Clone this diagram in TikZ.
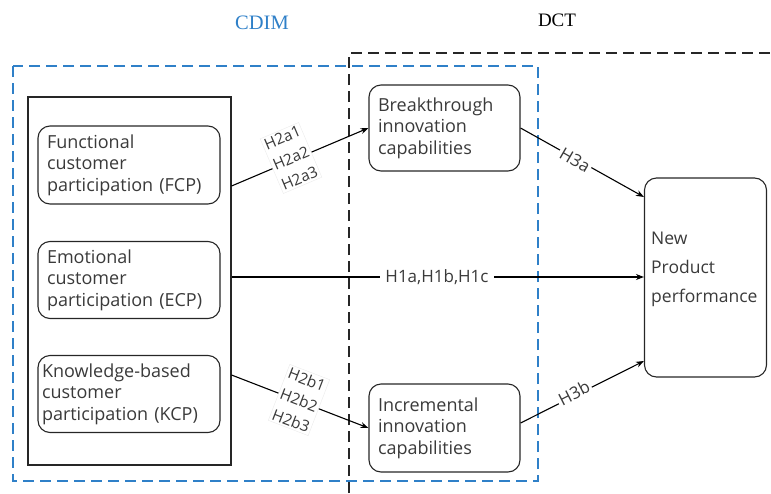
\documentclass[tikz,border=0pt]{standalone}
\usepackage{fontspec}
\setmainfont{Liberation Serif}
\newfontfamily\labfont{Open Sans}
\usetikzlibrary{arrows.meta,calc}
\definecolor{cdimblue}{HTML}{2F80C8}
\definecolor{txtgray}{HTML}{3A3A3A}
\tikzset{
  rbox/.style={draw=black!85, line width=1.1pt, rounded corners=12pt, align=left,
    inner xsep=9pt, inner ysep=2pt, font=\labfont\fontsize{18}{21.5}\selectfont, text=txtgray},
  conn/.style={draw=black, line width=1.1pt, -{Stealth[length=8pt,width=6pt]}},
  hlab/.style={font=\labfont\fontsize{15.5}{22}\selectfont, text=txtgray, fill=white, inner sep=2pt, align=center},
  hbox/.style={hlab, draw=black!8},
  bluedash/.style={draw=cdimblue, line width=1.1pt, dash pattern=on 11pt off 6pt},
  blackdash/.style={draw=black!85, line width=1.1pt, dash pattern=on 11pt off 6pt},
}
\begin{document}
\begin{tikzpicture}[x=1pt,y=-1pt]
\useasboundingbox (0,0) rectangle (771,493);
% titles
\node[font=\fontsize{20.5}{22}\selectfont, text=cdimblue] (cdimt) at (262,23) {CDIM};
\node[font=\fontsize{19}{22}\selectfont, text=black] (dctt) at (557,20) {DCT};
% dashed frames
\draw[blackdash] (349,493) -- (349,53) -- (771,53);
\draw[bluedash] (13,66) rectangle (538,481);
% outer box
\node[draw=black!85, line width=1.1pt, minimum width=203pt, minimum height=368pt, inner sep=0pt] (outer) at (129.5,281) {};
% participation boxes
\node[rbox, text width=164pt, minimum height=78pt] (fcp) at (129,165) {Functional\\customer\\participation (FCP)};
\node[rbox, text width=164pt, minimum height=77pt] (ecp) at (129,280) {Emotional\\customer\\participation (ECP)};
\node[rbox, minimum height=77pt, inner xsep=4pt, text width=174pt] (kcp) at (129,394) {Knowledge-based\\customer\\participation (KCP)};
% capability boxes
\node[rbox, text width=133pt, minimum height=86pt] (bic) at (444.5,128) {Breakthrough\\innovation\\capabilities};
\node[rbox, text width=133pt, minimum height=88pt] (iic) at (444.5,428) {Incremental\\innovation\\capabilities};
% NPP
\node[rbox, text width=116pt, minimum height=199pt, inner xsep=3pt] (npp) at (705.5,277.5) {};
\node[font=\labfont\fontsize{17.5}{29}\selectfont, text=txtgray, align=left, anchor=west, inner sep=0pt] (nppt) at (651,269) {New\\Product\\performance};
% connectors
\coordinate (fcpout) at (outer.east |- 0,186);
\coordinate (ecpout) at (outer.east |- 0,277);
\coordinate (kcpout) at (outer.east |- 0,375);
\coordinate (nppa) at (npp.west |- 0,197);
\coordinate (nppb) at (npp.west |- 0,361);
\draw[conn] (fcpout) -- (bic.west);
\draw[conn] (ecpout) -- (ecpout -| npp.west);
\draw[conn] (kcpout) -- (iic.west);
\draw[conn] (bic.east) -- (nppa);
\draw[conn] (iic.east |- 0,423) -- (nppb);
% labels
\node[hbox, rotate=23] (h2a) at (291,158) {H2a1\\H2a2\\H2a3};
\node[hbox, rotate=-21] (h2b) at (299,400) {H2b1\\H2b2\\H2b3};
\node[hlab, font=\labfont\fontsize{17}{18}\selectfont, inner xsep=5pt] (h1) at (437,277) {H1a,H1b,H1c};
\node[hlab, font=\labfont\fontsize{17}{18}\selectfont, rotate=-30] (h3a) at (575,160) {H3a};
\node[hlab, font=\labfont\fontsize{17}{18}\selectfont, rotate=27] (h3b) at (574,393) {H3b};
\end{tikzpicture}
\end{document}
